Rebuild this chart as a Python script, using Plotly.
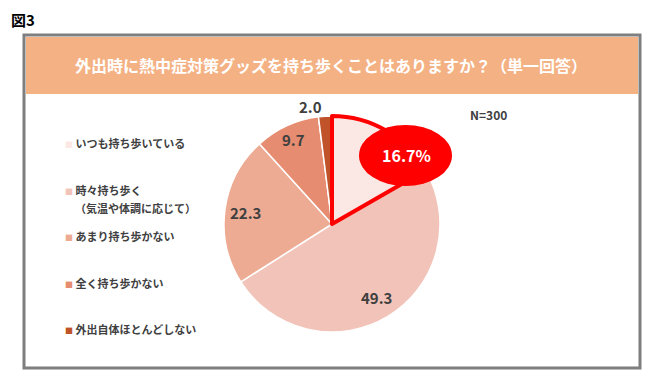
import numpy as np
import plotly.graph_objects as go

# ---- data ----
categories = ["いつも持ち歩いている", "時々持ち歩く\n（気温や体調に応じて）", "あまり持ち歩かない",
              "全く持ち歩かない", "外出自体ほとんどしない"]
values = [16.7, 49.3, 22.3, 9.7, 2.0]
slice_colors = ["#FBE7E3", "#F2C3B8", "#EDAB93", "#E68C70", "#C0532A"]
title_text = "外出時に熱中症対策グッズを持ち歩くことはありますか？（単一回答）"
fig_label = "図3"
n_label = "N=300"

W, H = 665, 377
OFF = 8  # page body margin
FONT = "Noto Sans CJK JP"
TXT = "#404040"


def px(x):
    return (x - OFF) / W


def py(y):
    return 1 - (y - OFF) / H


cx, cy, R = 332, 224, 108
dom_x = [px(cx - R), px(cx + R)]
dom_y = [py(cy + R), py(cy - R)]

fig = go.Figure()
fig.add_trace(go.Pie(
    values=values, labels=[c.replace("\n", "") for c in categories],
    sort=False, direction="clockwise", rotation=0,
    marker=dict(colors=slice_colors, line=dict(color="white", width=1.5)),
    textinfo="none",
    domain=dict(x=dom_x, y=dom_y), showlegend=False, hoverinfo="skip",
))
# highlight outline on first slice
fig.add_trace(go.Pie(
    values=values, sort=False, direction="clockwise", rotation=0,
    marker=dict(colors=["rgba(0,0,0,0)"] * len(values),
                line=dict(color=["#FF0000"] + ["rgba(0,0,0,0)"] * (len(values) - 1),
                          width=[4] + [0] * (len(values) - 1))),
    textinfo="none", domain=dict(x=dom_x, y=dom_y), showlegend=False, hoverinfo="skip",
))

shapes = [
    dict(type="rect", xref="paper", yref="paper", x0=px(24), x1=px(640), y0=py(368), y1=py(35),
         line=dict(color="#7F7F7F", width=3), fillcolor="white", layer="below"),
    dict(type="rect", xref="paper", yref="paper", x0=px(26), x1=px(638), y0=py(94), y1=py(37),
         line=dict(width=0), fillcolor="#F4B183", layer="below"),
    dict(type="circle", xref="paper", yref="paper", x0=px(359), x1=px(452), y0=py(186), y1=py(125),
         line=dict(width=0), fillcolor="#FF0000", layer="above"),
]

annotations = [
    dict(text=f"<b>{fig_label}</b>", x=px(10), y=py(8), xanchor="left", yanchor="top",
         borderpad=0, font=dict(family=FONT, size=15, color="#000000")),
    dict(text=f"<b>{title_text}</b>", x=px(331), y=py(65), xanchor="center", yanchor="middle",
         font=dict(family=FONT, size=16, color="white")),
    dict(text=f"<b>{values[0]:.1f}%</b>", x=px(406), y=py(155), xanchor="center", yanchor="middle",
         font=dict(family=FONT, size=16, color="white")),
    dict(text=f"<b>{n_label}</b>", x=px(468), y=py(115), xanchor="left", yanchor="middle",
         font=dict(family=FONT, size=12, color=TXT)),
]

# value labels on slices, placed along each slice's mid-angle
total = sum(values)
cum = np.cumsum([0] + values[:-1])
radial = [None, 0.79, 0.81, 0.86, 1.11]
for i, v in enumerate(values):
    if radial[i] is None:
        continue
    ang = 2 * np.pi * (cum[i] + v / 2) / total
    if i == len(values) - 1:
        ang -= 0.12
    lx = cx + radial[i] * R * np.sin(ang)
    ly = cy - radial[i] * R * np.cos(ang)
    annotations.append(dict(text=f"<b>{v:.1f}</b>", x=px(lx), y=py(ly),
                            xanchor="center", yanchor="middle",
                            font=dict(family=FONT, size=15, color=TXT)))

leg_y0, leg_dy = 143, 46.5
for i, (cat, col) in enumerate(zip(categories, slice_colors)):
    lines = cat.split("\n")
    y = leg_y0 + leg_dy * i
    annotations.append(dict(
        text=f"<span style='font-size:8px;color:{col}'>■</span> <b>{lines[0]}</b>",
        x=px(63), y=py(y), xanchor="left", yanchor="middle",
        font=dict(family=FONT, size=11, color=TXT)))
    for j, ln in enumerate(lines[1:], start=1):
        annotations.append(dict(
            text=f"<b>{ln}</b>", x=px(73), y=py(y + 18 * j), xanchor="left", yanchor="middle",
            font=dict(family=FONT, size=11, color=TXT)))

for a in annotations:
    a.update(xref="paper", yref="paper", showarrow=False)

fig.update_layout(
    width=W, height=H, margin=dict(l=0, r=0, t=0, b=0),
    paper_bgcolor="white", plot_bgcolor="white",
    shapes=shapes, annotations=annotations,
    font=dict(family=FONT, color=TXT),
)
fig.write_html("out.html")
